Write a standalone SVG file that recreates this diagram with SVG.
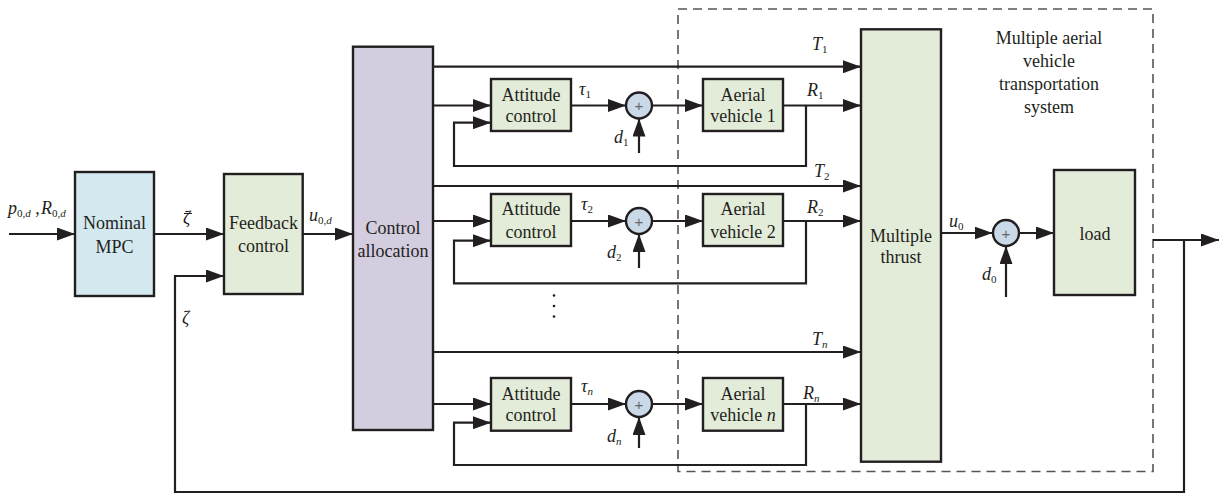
<svg xmlns="http://www.w3.org/2000/svg" width="1225" height="494" viewBox="0 0 1225 494" font-family="'Liberation Serif', 'Times New Roman', 'DejaVu Serif', serif">
<style>
.box{stroke:#231f20;stroke-width:2.4}
.mpc{fill:#d3e9ef}
.grn{fill:#e3ecd9}
.pur{fill:#d4cde0}
.sum{fill:#c9d9e8;stroke:#231f20;stroke-width:2.4}
.ca{fill:none;stroke:#231f20;stroke-width:2.2;marker-end:url(#ah)}
text{font-family:'Liberation Serif','Times New Roman','DejaVu Serif',serif}
.t{font-size:18px;fill:#231f20;text-anchor:middle}
.m{font-size:18px;font-style:italic;fill:#231f20}
.s{font-size:11px;font-style:normal}
.si{font-size:11px;font-style:italic}
text.plus{font-family:'Liberation Sans',Arial,sans-serif;font-size:15px;fill:#666;text-anchor:middle}
</style>
<defs>
<marker id="ah" markerWidth="18" markerHeight="13" refX="18" refY="6.5" orient="auto" markerUnits="userSpaceOnUse">
<path d="M0,0 L18,6.5 L0,13 z" fill="#231f20"/>
</marker>
</defs>

<rect id="system-boundary" x="678" y="9" width="475" height="462.5" fill="none" stroke="#555" stroke-width="1.6" stroke-dasharray="9 6"/>

<g id="connectors">
<path class="ca" d="M9,234 H75"/>
<path class="ca" d="M154,234 H224"/>
<path class="ca" d="M302.7,234 H353"/>
<path class="ca" d="M1184,240 V492 H175 V276 H224"/>
<path class="ca" d="M1153,240 H1219"/>
<path class="ca" d="M433,66.7 H861"/>
<path class="ca" d="M433,186 H861"/>
<path class="ca" d="M433,352 H861"/>
<path class="ca" d="M433,105.5 H491"/>
<path class="ca" d="M571,105.5 H626"/>
<path class="ca" d="M652,105.5 H703"/>
<path class="ca" d="M783,105.5 H861"/>
<path class="ca" d="M806,105.5 V166 H454 V122.7 H491"/>
<path class="ca" d="M639,153 V118.5"/>
<path class="ca" d="M433,221 H491"/>
<path class="ca" d="M571,221 H626"/>
<path class="ca" d="M652,221 H703"/>
<path class="ca" d="M783,221 H861"/>
<path class="ca" d="M806,221 V283.3 H454 V240.7 H491"/>
<path class="ca" d="M639,268 V234"/>
<path class="ca" d="M433,404 H491"/>
<path class="ca" d="M571,404 H626"/>
<path class="ca" d="M652,404 H703"/>
<path class="ca" d="M783,404 H861"/>
<path class="ca" d="M806,404 V465 H454 V422.7 H491"/>
<path class="ca" d="M639,448 V417"/>
<path class="ca" d="M941,233 H992.5"/>
<path class="ca" d="M1019,233 H1054"/>
<path class="ca" d="M1006,297 V246"/>
</g>

<g id="nominal-mpc">
<rect class="box mpc" x="75" y="172" width="79" height="124"/>
<text class="t" x="114.5" y="229">Nominal</text>
<text class="t" x="114.5" y="252.5">MPC</text>
</g>
<g id="feedback-control">
<rect class="box grn" x="224" y="174" width="78.7" height="120"/>
<text class="t" x="263.5" y="229">Feedback</text>
<text class="t" x="263.5" y="252">control</text>
</g>
<g id="control-allocation">
<rect class="box pur" x="353" y="46.7" width="80" height="383.3"/>
<text class="t" x="393" y="234">Control</text>
<text class="t" x="393" y="257">allocation</text>
</g>

<g id="attitude-control-1">
<rect class="box grn" x="491" y="79" width="80" height="52"/>
<text class="t" x="531" y="101">Attitude</text>
<text class="t" x="531" y="122">control</text>
</g>
<g id="sum-1"><circle class="sum" cx="639" cy="105.5" r="13"/><text class="plus" x="639" y="111">+</text></g>
<g id="aerial-vehicle-1">
<rect class="box grn" x="703" y="79" width="80" height="52"/>
<text class="t" x="743" y="101">Aerial</text>
<text class="t" x="743" y="122">vehicle 1</text>
</g>

<g id="attitude-control-2">
<rect class="box grn" x="491" y="194" width="80" height="52"/>
<text class="t" x="531" y="215">Attitude</text>
<text class="t" x="531" y="238">control</text>
</g>
<g id="sum-2"><circle class="sum" cx="639" cy="221" r="13"/><text class="plus" x="639" y="226.5">+</text></g>
<g id="aerial-vehicle-2">
<rect class="box grn" x="703" y="194" width="80" height="52"/>
<text class="t" x="743" y="215">Aerial</text>
<text class="t" x="743" y="238">vehicle 2</text>
</g>

<g id="attitude-control-n">
<rect class="box grn" x="491" y="378" width="80" height="52.7"/>
<text class="t" x="531" y="400">Attitude</text>
<text class="t" x="531" y="421">control</text>
</g>
<g id="sum-n"><circle class="sum" cx="639" cy="404" r="13"/><text class="plus" x="639" y="409.5">+</text></g>
<g id="aerial-vehicle-n">
<rect class="box grn" x="703" y="378" width="80" height="52.7"/>
<text class="t" x="743" y="400">Aerial</text>
<text class="t" x="743" y="421">vehicle <tspan font-style="italic">n</tspan></text>
</g>

<g id="multiple-thrust">
<rect class="box grn" x="861" y="29.3" width="80" height="432.4"/>
<text class="t" x="901" y="241.5">Multiple</text>
<text class="t" x="901" y="263">thrust</text>
</g>
<g id="sum-0"><circle class="sum" cx="1006" cy="233" r="13"/><text class="plus" x="1006" y="238.5">+</text></g>
<g id="load">
<rect class="box grn" x="1054" y="170" width="81" height="125"/>
<text class="t" x="1095" y="240">load</text>
</g>

<g id="system-label">
<text class="t" x="1049" y="44">Multiple aerial</text>
<text class="t" x="1049" y="67">vehicle</text>
<text class="t" x="1049" y="90">transportation</text>
<text class="t" x="1049" y="113">system</text>
</g>

<g id="labels">
<text class="m" x="8" y="214">p<tspan class="s" dy="3">0,</tspan><tspan class="si">d</tspan><tspan dy="-3"> ,</tspan><tspan x="41">R</tspan><tspan class="s" dy="3">0,</tspan><tspan class="si">d</tspan></text>
<text class="m" x="183" y="224">ζ</text>
<line x1="184" y1="213.5" x2="192" y2="213.5" stroke="#231f20" stroke-width="1"/>
<text class="m" x="182" y="324">ζ</text>
<text class="m" x="309" y="221">u<tspan class="s" dy="3">0,</tspan><tspan class="si">d</tspan></text>
<text class="m" x="812" y="50">T<tspan class="s" dy="3">1</tspan></text>
<text class="m" x="814" y="177">T<tspan class="s" dy="3">2</tspan></text>
<text class="m" x="812" y="345">T<tspan class="si" dy="3">n</tspan></text>
<text class="m" x="579" y="95">τ<tspan class="s" dy="3">1</tspan></text>
<text class="m" x="581" y="210">τ<tspan class="s" dy="3">2</tspan></text>
<text class="m" x="581" y="392">τ<tspan class="si" dy="3">n</tspan></text>
<text class="m" x="807" y="96">R<tspan class="s" dy="3">1</tspan></text>
<text class="m" x="807" y="213">R<tspan class="s" dy="3">2</tspan></text>
<text class="m" x="803" y="399">R<tspan class="si" dy="3">n</tspan></text>
<text class="m" x="614" y="143">d<tspan class="s" dy="3">1</tspan></text>
<text class="m" x="607" y="258">d<tspan class="s" dy="3">2</tspan></text>
<text class="m" x="607" y="442">d<tspan class="si" dy="3">n</tspan></text>
<text class="m" x="949" y="227">u<tspan class="s" dy="3">0</tspan></text>
<text class="m" x="982" y="280">d<tspan class="s" dy="3">0</tspan></text>
<circle cx="554" cy="295.5" r="1.3" fill="#231f20"/>
<circle cx="554" cy="306" r="1.3" fill="#231f20"/>
<circle cx="554" cy="316.5" r="1.3" fill="#231f20"/>
</g>
</svg>
